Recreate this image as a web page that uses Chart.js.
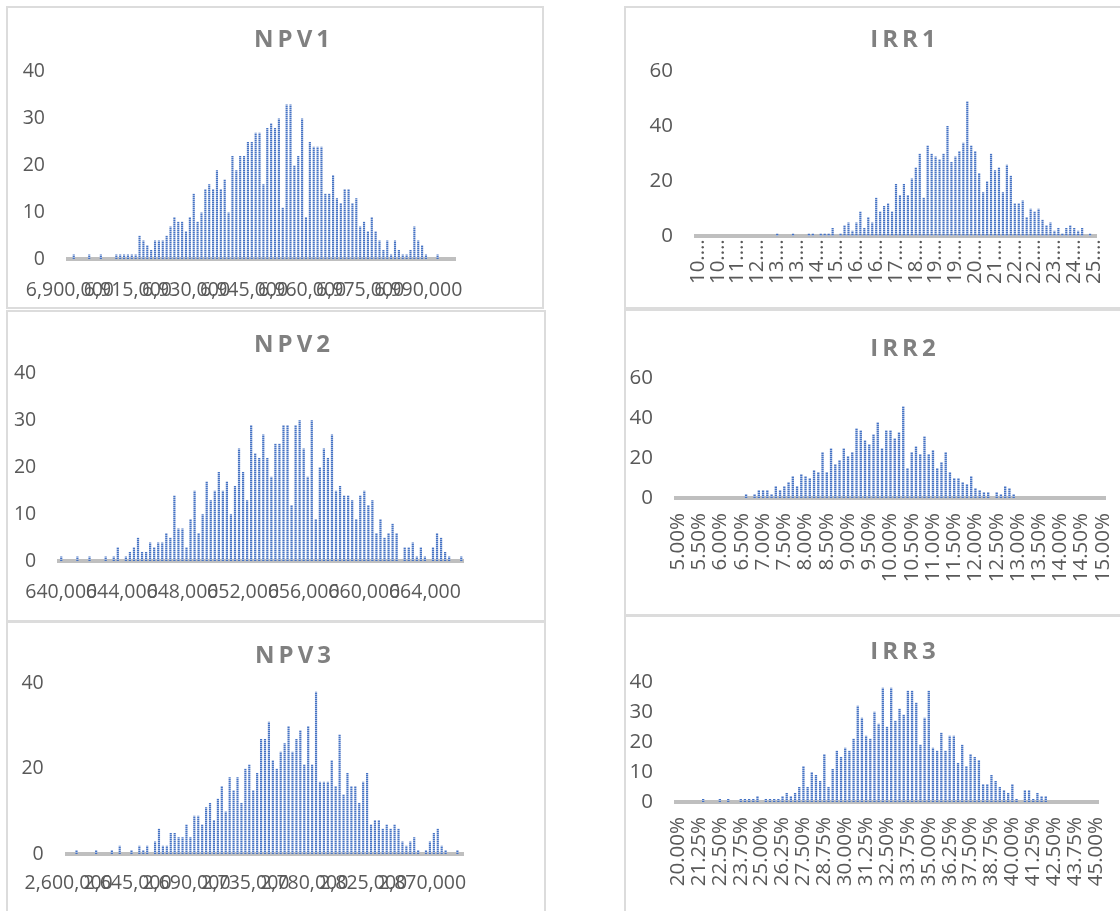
<!DOCTYPE html>
<html>
<head>
<meta charset="utf-8">
<title>NPV / IRR histograms</title>
<script src="https://cdn.jsdelivr.net/npm/chart.js@4.4.0/dist/chart.umd.min.js"></script>
<style>
  body { margin: 0; background: #fff; width: 1120px; height: 911px; overflow: hidden; position: relative; }
  .panel { position: absolute; box-sizing: border-box; border: 2px solid #dcdcdc; background: #fff; }
  canvas { position: absolute; }
</style>
</head>
<body>
<script>
// --- Histogram counts (one value per bin) ---
const npv1Counts = [0,1,0,0,0,1,0,0,1,0, 0,0,1,1,1,1,1,1,5,4, 3,2,4,4,4,5,7,9,8,8, 6,9,14,8,10,15,16,15,19,15,
  17,10,22,19,22,22,25,25,27,27, 16,28,29,28,30,11,33,33,20,22, 30,9,25,24,24,24,14,14,18,13,
  12,15,15,12,13,7,8,6,9,6, 4,2,4,1,4,2,1,1,2,7, 4,3,1,0,0,1,0,0,0,0];
const npv2Counts = [1,0,0,0,1,0,0,1,0,0, 0,1,0,1,3,0,1,2,3,5, 2,2,4,3,4,4,6,5,14,7, 7,3,9,15,6,10,17,13,15,19,
  15,17,10,16,24,19,13,29,23,22, 27,22,18,25,25,29,29,12,29,30, 24,18,30,9,20,24,22,27,15,16,
  14,14,13,9,14,15,12,13,6,9, 5,6,8,6,0,3,3,4,1,3, 1,0,3,6,5,2,1,0,0,1];
const npv3Counts = [0,0,1,0,0,0,0,1,0,0, 0,1,0,2,0,0,1,0,2,1, 2,0,3,6,2,2,5,5,4,4, 7,4,9,9,7,11,12,8,13,16,
  10,18,15,18,12,20,21,15,19,27, 27,31,22,20,24,26,30,24,27,29, 21,30,21,38,17,17,17,22,16,28,
  14,19,16,16,12,17,19,7,8,8, 6,7,6,7,6,3,2,3,4,1, 0,1,3,5,6,2,1,0,0,1, 0];
const irr1Counts = [0,0,0,0,0,0,0,0,0,0, 0,0,0,0,0,0,0,0,0,0, 1,0,0,0,1,0,0,0,1,1, 0,1,1,1,3,0,1,4,5,2,
  5,9,3,7,5,14,9,11,12,9, 19,15,19,15,21,25,30,14,33,30, 29,28,30,40,27,29,31,34,49,33,
  31,23,16,20,30,24,25,16,26,22, 12,12,13,7,10,9,10,6,4,5, 2,3,1,3,4,3,2,3,0,1, 0];
const irr2Counts = [0,0,0,0,0,0,0,0,0,0, 0,0,0,0,0,0,2,0,2,4, 4,4,2,6,4,6,8,11,6,12, 11,10,14,13,23,13,25,17,19,25,
  21,23,35,34,29,27,32,38,25,34, 34,30,33,46,15,23,26,22,31,22, 24,15,18,23,13,10,10,8,7,11,
  5,4,3,3,0,3,2,6,5,2, 0,0,0,0,0,0,0,0,0,0, 0,0,0,0,0,0,0,0,0,0, 0];
const irr3Counts = [0,0,0,0,0,0,1,0,0,0, 1,0,1,0,0,1,1,1,1,2, 0,1,1,1,1,2,3,2,3,5, 12,5,10,9,7,16,5,11,17,15,
  18,17,21,32,28,22,21,30,26,38, 25,38,27,31,29,37,37,33,19,28, 37,18,17,23,17,22,22,13,19,12,
  16,15,14,6,6,9,7,5,4,3, 6,1,0,4,4,1,3,2,2,0, 0,0,0,0,0,0,0,0,0,0, 0];

// --- Category tick labels (shown every few bins) ---
const npv1Ticks = ['6,900,000','6,915,000','6,930,000','6,945,000','6,960,000','6,975,000','6,990,000'];
const npv2Ticks = ['640,000','644,000','648,000','652,000','656,000','660,000','664,000'];
const npv3Ticks = ['2,600,000','2,645,000','2,690,000','2,735,000','2,780,000','2,825,000','2,870,000'];
const irr1Ticks = ['10.00%','10.75%','11.50%','12.25%','13.00%','13.75%','14.50%','15.25%','16.00%','16.75%','17.50%',
  '18.25%','19.00%','19.75%','20.50%','21.25%','22.00%','22.75%','23.50%','24.25%','25.00%'];
const irr2Ticks = ['5.00%','5.50%','6.00%','6.50%','7.00%','7.50%','8.00%','8.50%','9.00%','9.50%','10.00%',
  '10.50%','11.00%','11.50%','12.00%','12.50%','13.00%','13.50%','14.00%','14.50%','15.00%'];
const irr3Ticks = ['20.00%','21.25%','22.50%','23.75%','25.00%','26.25%','27.50%','28.75%','30.00%','31.25%','32.50%',
  '33.75%','35.00%','36.25%','37.50%','38.75%','40.00%','41.25%','42.50%','43.75%','45.00%'];

const FONT_FAMILY = '"Open Sans", Lato, sans-serif';
const TICK_COLOR = '#595959';

// title drawn with letter spacing, like the spreadsheet's chart titles
const spacedTitle = {
  id: 'spacedTitle',
  afterDraw(chart, args, opts) {
    const ctx = chart.ctx;
    ctx.save();
    ctx.font = 'bold 24px ' + FONT_FAMILY;
    ctx.letterSpacing = '4px';
    ctx.fillStyle = '#808080';
    ctx.textAlign = 'left';
    ctx.textBaseline = 'middle';
    const w = ctx.measureText(opts.text).width - 4;
    ctx.fillText(opts.text, opts.x - w / 2, opts.y);
    ctx.restore();
  }
};

function makeBarPattern(ctx) {
  const c = document.createElement('canvas');
  c.width = 1; c.height = 2;
  const g = c.getContext('2d');
  g.fillStyle = '#4472c4'; g.fillRect(0, 0, 1, 1);
  g.fillStyle = '#a3b8e0'; g.fillRect(0, 1, 1, 1);
  return ctx.createPattern(c, 'repeat');
}

function drawHistogram(spec) {
  const { box, area } = spec;

  const panel = document.createElement('div');
  panel.className = 'panel';
  Object.assign(panel.style, { left: box.x + 'px', top: box.y + 'px', width: box.w + 'px', height: box.h + 'px' });
  document.body.appendChild(panel);

  const canvas = document.createElement('canvas');
  canvas.width = box.w; canvas.height = box.h;
  Object.assign(canvas.style, { left: box.x + 'px', top: box.y + 'px', width: box.w + 'px', height: box.h + 'px' });
  document.body.appendChild(canvas);
  const ctx = canvas.getContext('2d');

  const labels = spec.counts.map((_, i) =>
    (i % spec.every === 0 && spec.ticks[i / spec.every] !== undefined) ? spec.ticks[i / spec.every] : '');

  const yWidth = area.l - box.x;
  const xHeight = box.y + box.h - area.b;
  const tickFont = { family: FONT_FAMILY, size: spec.fontSize };

  new Chart(ctx, {
    type: 'bar',
    data: {
      labels: labels,
      datasets: [{
        data: spec.counts,
        backgroundColor: makeBarPattern(ctx),
        borderWidth: 0,
        barPercentage: 0.55,
        categoryPercentage: 1
      }]
    },
    options: {
      responsive: false,
      devicePixelRatio: 1,
      animation: false,
      layout: { padding: { top: area.t - box.y, right: box.x + box.w - area.r, bottom: 0, left: 0 } },
      plugins: {
        legend: { display: false },
        tooltip: { enabled: false },
        spacedTitle: { text: spec.title, x: spec.titleX - box.x, y: spec.titleY - box.y }
      },
      scales: {
        x: {
          offset: true,
          grid: { display: false, drawTicks: false },
          border: { display: true, color: '#bfbfbf', width: 4 },
          ticks: {
            autoSkip: false,
            minRotation: spec.rotation,
            maxRotation: spec.rotation,
            padding: spec.xPad,
            font: tickFont,
            color: TICK_COLOR,
            callback: function (value, index) {
              const s = this.getLabelForValue(value);
              return (spec.truncate && s) ? s.slice(0, 3) + '…' : s;
            }
          },
          afterFit: s => { s.height = xHeight; }
        },
        y: {
          min: 0,
          max: spec.yMax,
          grid: { display: false, drawTicks: false },
          border: { display: false },
          ticks: { stepSize: spec.yStep, padding: 23, font: tickFont, color: TICK_COLOR },
          afterFit: s => { s.width = yWidth; }
        }
      }
    },
    plugins: [spacedTitle]
  });
}

document.addEventListener('DOMContentLoaded', () => {
  drawHistogram({ title: 'NPV1', counts: npv1Counts, ticks: npv1Ticks, every: 15, yMax: 40, yStep: 10, rotation: 0, xPad: 19.5, fontSize: 19.5,
    box: { x: 6, y: 6, w: 538, h: 303 }, area: { l: 67, r: 455, t: 71.7, b: 259.3 }, titleX: 292, titleY: 40 });
  drawHistogram({ title: 'NPV2', counts: npv2Counts, ticks: npv2Ticks, every: 15, yMax: 40, yStep: 10, rotation: 0, xPad: 19, fontSize: 19.5,
    box: { x: 6, y: 310, w: 540, h: 312 }, area: { l: 58.3, r: 463.3, t: 373.3, b: 561.3 }, titleX: 292, titleY: 345 });
  drawHistogram({ title: 'NPV3', counts: npv3Counts, ticks: npv3Ticks, every: 15, yMax: 40, yStep: 20, rotation: 0, xPad: 17.8, fontSize: 19.5,
    box: { x: 6, y: 621, w: 540, h: 300 }, area: { l: 66.7, r: 463.3, t: 683.3, b: 854.3 }, titleX: 293, titleY: 656 });
  drawHistogram({ title: 'IRR1', counts: irr1Counts, ticks: irr1Ticks, every: 5, yMax: 60, yStep: 20, rotation: 90, xPad: 3, truncate: true, fontSize: 20.5,
    box: { x: 624, y: 6, w: 520, h: 303 }, area: { l: 696, r: 1096, t: 71, b: 236.3 }, titleX: 903, titleY: 40 });
  drawHistogram({ title: 'IRR2', counts: irr2Counts, ticks: irr2Ticks, every: 5, yMax: 60, yStep: 20, rotation: 90, xPad: 15, fontSize: 20.5,
    box: { x: 624, y: 309, w: 520, h: 307 }, area: { l: 676, r: 1105, t: 378.3, b: 498 }, titleX: 903, titleY: 349 });
  drawHistogram({ title: 'IRR3', counts: irr3Counts, ticks: irr3Ticks, every: 5, yMax: 40, yStep: 10, rotation: 90, xPad: 15, fontSize: 20.5,
    box: { x: 624, y: 615, w: 520, h: 300 }, area: { l: 676, r: 1098, t: 681.7, b: 802 }, titleX: 903, titleY: 652 });
});
</script>
</body>
</html>
